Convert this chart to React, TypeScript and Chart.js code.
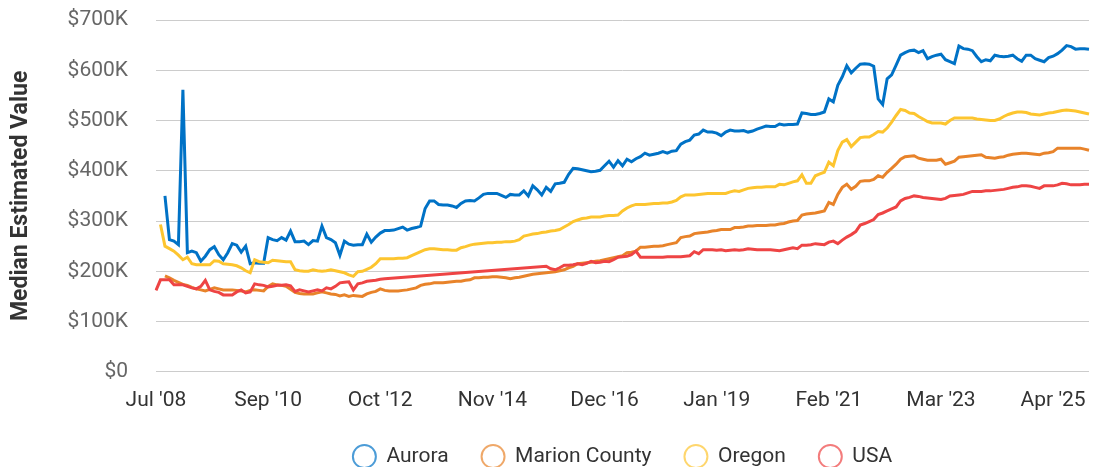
import React, { useEffect, useRef } from "react";
import { Chart, registerables } from "chart.js";

Chart.register(...registerables);

// ---------- DATA (values in thousands of US dollars) ----------
const MONTH_NAMES = ["Jan", "Feb", "Mar", "Apr", "May", "Jun", "Jul", "Aug", "Sep", "Oct", "Nov", "Dec"];
const START_YEAR = 2008;
const START_MONTH = 6; // July

const SERIES_NAMES = ["Aurora", "Marion County", "Oregon", "USA"];

const X_TICK_LABELS = ["Jul '08", "Sep '10", "Oct '12", "Nov '14", "Dec '16", "Jan '19", "Feb '21", "Mar '23", "Apr '25"];
const X_TICK_EVERY = 25;

const Y_MIN = 0;
const Y_MAX = 700;
const Y_STEP = 100;

const AURORA = [
  null, null, 350, 263, 260, 253, 561, 237, 240, 237,
  220, 230, 243, 249, 233, 223, 237, 255, 252, 238,
  250, 215, 217, 216, 216, 267, 263, 261, 267, 262,
  280, 259, 259, 260, 253, 261, 260, 290, 267, 263,
  257, 232, 260, 254, 252, 253, 253, 274, 258, 268,
  276, 281, 281, 282, 285, 288, 282, 285, 287, 290,
  325, 340, 340, 333, 332, 332, 330, 327, 335, 340,
  341, 340, 346, 353, 355, 355, 355, 351, 347, 353,
  352, 352, 360, 350, 370, 362, 352, 367, 359, 374,
  375, 377, 393, 405, 404, 402, 400, 398, 399, 401,
  410, 419, 407, 420, 410, 423, 418, 424, 428, 435,
  431, 433, 435, 438, 435, 439, 440, 453, 458, 461,
  471, 473, 481, 477, 477, 475, 470, 477, 481, 479,
  479, 480, 477, 479, 483, 486, 489, 488, 488, 493,
  491, 492, 492, 493, 515, 514, 512, 512, 514, 517,
  543, 537, 570, 587, 609, 595, 604, 612, 613, 612,
  608, 543, 532, 583, 591, 610, 630, 635, 639, 640,
  635, 639, 623, 627, 630, 632, 621, 617, 613, 648,
  643, 642, 639, 627, 617, 621, 619, 630, 628, 627,
  628, 630, 623, 618, 630, 630, 623, 620, 617, 625,
  628, 633, 640, 649, 647, 642, 643, 643, 642,
];

const MARION_COUNTY = [
  null, null, 191, 187, 182, 178, 174, 172, 168, 165,
  163, 161, 164, 167, 165, 163, 163, 163, 162, 161,
  159, 162, 163, 162, 161, 170, 175, 173, 172, 170,
  164, 158, 156, 155, 155, 155, 157, 159, 157, 155,
  154, 151, 153, 150, 152, 151, 150, 155, 158, 160,
  165, 162, 161, 161, 161, 162, 163, 165, 167, 172,
  174, 175, 177, 177, 177, 178, 179, 180, 180, 182,
  183, 187, 187, 188, 188, 189, 189, 188, 187, 185,
  187, 188, 190, 192, 194, 195, 196, 197, 198, 199,
  201, 203, 207, 210, 215, 216, 217, 218, 220, 221,
  223, 225, 227, 229, 231, 237, 238, 240, 248, 248,
  249, 250, 250, 251, 253, 255, 257, 267, 269, 270,
  275, 276, 277, 278, 280, 281, 283, 283, 283, 287,
  287, 288, 290, 290, 291, 291, 291, 292, 292, 294,
  295, 298, 300, 301, 312, 314, 315, 316, 318, 320,
  337, 333, 353, 367, 373, 363, 369, 379, 380, 380,
  383, 390, 387, 397, 405, 413, 423, 428, 429, 430,
  425, 423, 421, 421, 421, 423, 413, 416, 419, 427,
  428, 429, 430, 431, 432, 427, 426, 425, 427, 428,
  431, 433, 434, 435, 435, 434, 433, 432, 435, 436,
  438, 445, 445, 445, 445, 445, 445, 443, 441,
];

const OREGON = [
  null, 293, 250, 245, 240, 232, 223, 228, 215, 213,
  213, 213, 213, 221, 220, 215, 214, 213, 211, 207,
  201, 197, 223, 219, 218, 217, 222, 221, 220, 219,
  219, 203, 201, 200, 200, 203, 201, 200, 201, 203,
  201, 199, 197, 193, 190, 199, 200, 204, 208, 215,
  225, 225, 225, 225, 226, 226, 227, 231, 235, 239,
  243, 245, 245, 244, 243, 243, 242, 242, 247, 249,
  252, 254, 255, 256, 257, 257, 258, 258, 259, 259,
  260, 263, 270, 272, 274, 275, 277, 278, 280, 281,
  283, 288, 293, 299, 302, 305, 306, 308, 308, 308,
  310, 311, 311, 312, 320, 326, 330, 333, 333, 333,
  334, 335, 335, 336, 336, 338, 341, 348, 352, 352,
  352, 353, 354, 355, 355, 355, 355, 355, 358, 360,
  359, 362, 365, 366, 367, 367, 368, 368, 368, 373,
  372, 375, 378, 380, 392, 375, 375, 390, 394, 397,
  417, 410, 440, 457, 462, 448, 457, 466, 467, 467,
  472, 478, 477, 485, 497, 510, 522, 520, 515, 514,
  508, 503, 498, 495, 495, 495, 493, 500, 505, 505,
  505, 505, 505, 503, 502, 501, 500, 500, 503, 508,
  512, 515, 517, 517, 516, 513, 512, 511, 513, 515,
  516, 518, 520, 521, 520, 519, 517, 515, 513,
];

const USA = [
  162, 183, 183, 183, 173, 173, 173, 170, 167, 165,
  170, 182, 163, 160, 158, 153, 153, 153, 159, 163,
  157, 159, 175, 173, 172, 169, 170, 172, 172, 173,
  171, 160, 163, 161, 159, 161, 163, 161, 167, 165,
  170, 177, 178, 179, 163, 175, 177, 180, 181, 182,
  184, 185, null, null, null, null, null, null, null, null,
  null, null, null, null, null, null, null, null, null, null,
  null, null, null, null, null, null, null, null, null, null,
  null, null, null, null, null, null, null, 210, 205, 203,
  207, 212, 212, 213, 215, 213, 216, 220, 217, 218,
  220, 219, 223, 228, 229, 230, 233, 240, 228, 228,
  228, 228, 228, 228, 229, 229, 229, 229, 230, 231,
  239, 235, 243, 243, 243, 242, 243, 241, 242, 243,
  242, 243, 245, 244, 243, 243, 243, 243, 242, 241,
  243, 245, 247, 245, 252, 252, 253, 255, 254, 253,
  258, 260, 255, 262, 268, 273, 279, 292, 295, 299,
  303, 313, 316, 320, 324, 328, 340, 345, 347, 350,
  349, 347, 346, 345, 344, 343, 345, 350, 351, 352,
  353, 356, 359, 359, 359, 360, 360, 361, 362, 363,
  365, 367, 368, 370, 370, 369, 367, 365, 370, 370,
  370, 372, 375, 374, 372, 372, 372, 373, 373,
];

const CATEGORIES = AURORA.map((_, i) => {
  const m = START_MONTH + i;
  const yr = (START_YEAR + Math.floor(m / 12)) % 100;
  return `${MONTH_NAMES[m % 12]} '${String(yr).padStart(2, "0")}`;
});

// ---------- STYLE ----------
const LINE_COLORS = ["rgb(0,114,198)", "rgb(232,131,42)", "rgb(253,197,47)", "rgb(238,68,68)"];
const LEGEND_COLORS = ["rgba(0,114,198,0.7)", "rgba(232,131,42,0.7)", "rgba(253,197,47,0.7)", "rgba(238,68,68,0.7)"];
const FONT_FAMILY = "Roboto";
const TRANSPARENT = "rgba(0,0,0,0)";

export default function App() {
  const canvasRef = useRef<HTMLCanvasElement | null>(null);

  useEffect(() => {
    const canvas = canvasRef.current;
    if (!canvas) return;
    const seriesValues = [AURORA, MARION_COUNTY, OREGON, USA];
    const chart = new Chart(canvas, {
      type: "line",
      data: {
        labels: CATEGORIES,
        datasets: seriesValues.map((vals, i) => ({
          label: SERIES_NAMES[i],
          data: vals,
          borderColor: LINE_COLORS[i],
          backgroundColor: LINE_COLORS[i],
          borderWidth: 3,
          pointRadius: 0,
          pointHoverRadius: 0,
          tension: 0,
          fill: false,
          spanGaps: true,
          order: -i,
        })),
      },
      options: {
        responsive: false,
        animation: false,
        events: [],
        layout: { padding: { left: 0, right: 13, top: 20, bottom: 0 } },
        font: { family: FONT_FAMILY },
        plugins: {
          tooltip: { enabled: false },
          legend: {
            position: "bottom",
            fullSize: false,
            labels: {
              usePointStyle: true,
              pointStyle: "circle",
              boxHeight: 16.3,
              pointStyleWidth: 23,
              padding: 33,
              color: "#333",
              font: { size: 21, family: FONT_FAMILY },
              generateLabels: (ch: any) =>
                ch.data.datasets.map((ds: any, i: number) => ({
                  text: ds.label,
                  fillStyle: TRANSPARENT,
                  strokeStyle: LEGEND_COLORS[i],
                  lineWidth: 2,
                  pointStyle: "circle",
                  hidden: false,
                  datasetIndex: i,
                  fontColor: "#333",
                })),
            },
          },
        },
        scales: {
          x: {
            type: "category",
            grid: { display: false, drawTicks: true, tickLength: 16, tickColor: TRANSPARENT },
            border: { display: false },
            afterBuildTicks: (scale: any) => {
              scale.ticks = scale.ticks.filter((t: any) => t.value % X_TICK_EVERY === 0);
            },
            ticks: {
              autoSkip: false,
              maxRotation: 0,
              minRotation: 0,
              padding: 0,
              color: "#333",
              font: { size: 21, family: FONT_FAMILY },
              callback: (value: any) => {
                const v = Number(value);
                return v % X_TICK_EVERY === 0 ? X_TICK_LABELS[v / X_TICK_EVERY] ?? "" : "";
              },
            },
          },
          y: {
            min: Y_MIN,
            max: Y_MAX,
            grid: { color: "#cccccc", drawTicks: true, tickLength: 28, tickColor: TRANSPARENT, lineWidth: 1 },
            border: { display: false },
            ticks: {
              stepSize: Y_STEP,
              padding: 0,
              color: "#666",
              font: { size: 21, family: FONT_FAMILY },
              callback: (value: any) => (Number(value) === 0 ? "$0" : `$${value}K`),
            },
            title: {
              display: true,
              text: "Median Estimated Value",
              color: "#333",
              font: { size: 23, weight: "bold", family: FONT_FAMILY },
              padding: { top: 7, bottom: 33 },
            },
          },
        },
      },
    } as any);
    return () => chart.destroy();
  }, []);

  return (
    <div style={{ position: "absolute", left: 0, top: 0, width: 1102, height: 477 }}>
      <canvas ref={canvasRef} width={1102} height={477} style={{ display: "block" }} />
    </div>
  );
}
